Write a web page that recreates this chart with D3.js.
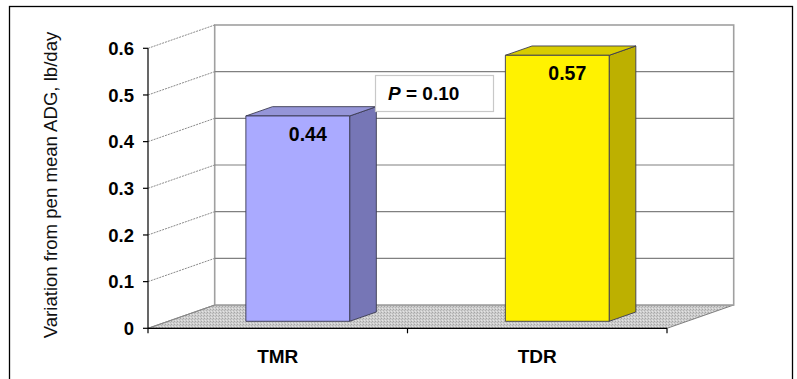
<!DOCTYPE html>
<html><head><meta charset="utf-8">
<script src="https://cdn.jsdelivr.net/npm/d3@7"></script>
<style>body{margin:0;background:#fff}svg{display:block}text{font-family:Arial,"Liberation Sans",sans-serif}</style>
</head><body>
<svg id="c" width="797" height="379"></svg>
<script>
const categories = ["TMR", "TDR"];
const values = [0.44, 0.57];
const valueLabels = ["0.44", "0.57"];
const yTicks = [0, 0.1, 0.2, 0.3, 0.4, 0.5, 0.6];
const yTickLabels = ["0", "0.1", "0.2", "0.3", "0.4", "0.5", "0.6"];
const frontColors = ["#aaaaff", "#fff200"];
const sideColors = ["#7676b6", "#bdb000"];
const topColors = ["#9595d8", "#d8cc00"];
const yTitle = "Variation from pen mean ADG, lb/day";
const pText = ["P", " = 0.10"];

const svg = d3.select("#c");
const x = d3.scaleBand().domain(categories).range([148, 667]).padding(0);
const y = d3.scaleLinear().domain([0, 0.6]).range([328.3, 48.3]);
const DX = 66.7, DY = -23.3;
const P = (px, py, d) => [px + d * DX, py + d * DY];
const d0 = 0.3, d1 = 0.7;

// outer border
svg.append("rect").attr("x", 9.5).attr("y", 6.5).attr("width", 783).attr("height", 380)
  .attr("fill", "none").attr("stroke", "#000").attr("stroke-width", 1.3);

// floor pattern
const defs = svg.append("defs");
const pat = defs.append("pattern").attr("id", "fl").attr("width", 3).attr("height", 3).attr("patternUnits", "userSpaceOnUse");
pat.append("rect").attr("width", 3).attr("height", 3).attr("fill", "#cdcdcd");
pat.append("rect").attr("x", 0).attr("y", 0).attr("width", 1).attr("height", 1).attr("fill", "#a6a6a6");
pat.append("rect").attr("x", 2).attr("y", 1).attr("width", 1).attr("height", 1).attr("fill", "#b4b4b4");
pat.append("rect").attr("x", 1).attr("y", 2).attr("width", 1).attr("height", 1).attr("fill", "#e4e4e4");

const x0 = x.range()[0], x1 = x.range()[1];
const y0 = y(0), yTop = y(0.6);
const line = d3.line();

// floor
svg.append("path").attr("d", line([P(x0, y0, 0), P(x1, y0, 0), P(x1, y0, 1), P(x0, y0, 1)]) + "Z")
  .attr("fill", "url(#fl)").attr("stroke", "#666").attr("stroke-width", 0.8);

// back wall
const bw0 = P(x0, yTop, 1), bw1 = P(x1, y0, 1);
svg.append("rect").attr("x", bw0[0]).attr("y", bw0[1]).attr("width", bw1[0] - bw0[0]).attr("height", bw1[1] - bw0[1])
  .attr("fill", "#fff").attr("stroke", "#a0a0a0").attr("stroke-width", 1.6);

// gridlines on back wall and left wall
yTicks.forEach(t => {
  const a = P(x0, y(t), 1), b = P(x1, y(t), 1);
  if (t > 0 && t < 0.6) {
    svg.append("line").attr("x1", a[0]).attr("y1", a[1]).attr("x2", b[0]).attr("y2", b[1])
      .attr("stroke", "#808080").attr("stroke-width", 1.2);
  }
  svg.append("line").attr("x1", x0).attr("y1", y(t)).attr("x2", a[0]).attr("y2", a[1])
    .attr("stroke", "#8a8a8a").attr("stroke-width", 1).attr("stroke-dasharray", t === 0 ? null : "2,1");
});

// bars
const bw = x.bandwidth() * 0.4;
categories.forEach((c, i) => {
  const v = values[i];
  const bx0 = x(c) + (x.bandwidth() - bw) / 2, bx1 = bx0 + bw;
  const g = svg.append("g").attr("stroke", "#3a3a50").attr("stroke-width", 0.9).attr("stroke-linejoin", "round");
  const f0 = P(bx0, y(v), d0), f1 = P(bx1, y(0), d0);
  g.append("path").attr("d", line([P(bx1, y(0), d0), P(bx1, y(v), d0), P(bx1, y(v), d1), P(bx1, y(0), d1)]) + "Z").attr("fill", sideColors[i]);
  g.append("path").attr("d", line([P(bx0, y(v), d0), P(bx1, y(v), d0), P(bx1, y(v), d1), P(bx0, y(v), d1)]) + "Z").attr("fill", topColors[i]);
  g.append("rect").attr("x", f0[0]).attr("y", f0[1]).attr("width", f1[0] - f0[0]).attr("height", f1[1] - f0[1]).attr("fill", frontColors[i]);
  svg.append("text").attr("x", (f0[0] + f1[0]) / 2 + 10).attr("y", f0[1] + 25)
    .attr("text-anchor", "middle").attr("font-size", 19.5).attr("font-weight", "bold").attr("fill", "#000").text(valueLabels[i]);
});

// axes
svg.append("line").attr("x1", x0).attr("y1", yTop).attr("x2", x0).attr("y2", y0).attr("stroke", "#000").attr("stroke-width", 1.2);
svg.append("line").attr("x1", x0).attr("y1", y0).attr("x2", x1).attr("y2", y0).attr("stroke", "#000").attr("stroke-width", 1.2);
yTicks.forEach((t, i) => {
  svg.append("line").attr("x1", x0 - 5).attr("x2", x0).attr("y1", y(t)).attr("y2", y(t)).attr("stroke", "#000").attr("stroke-width", 1.2);
  svg.append("text").attr("x", 134).attr("y", y(t)).attr("dy", "0.36em").attr("text-anchor", "end")
    .attr("font-size", 18.5).attr("font-weight", "bold").text(yTickLabels[i]);
});
const xt = categories.map(c => x(c)).concat([x1]);
xt.forEach(v => {
  svg.append("line").attr("x1", v).attr("x2", v).attr("y1", y0).attr("y2", y0 + 5).attr("stroke", "#000").attr("stroke-width", 1.2);
});
categories.forEach(c => {
  svg.append("text").attr("x", x(c) + x.bandwidth() / 2).attr("y", 362.5).attr("text-anchor", "middle")
    .attr("font-size", 19).attr("font-weight", "bold").text(c);
});

// y title
svg.append("text").attr("transform", "translate(56.5,185) rotate(-90)").attr("text-anchor", "middle")
  .attr("font-size", 18.6).attr("fill", "#111").text(yTitle);

// P box
svg.append("rect").attr("x", 375.5).attr("y", 75.5).attr("width", 118).attr("height", 36)
  .attr("fill", "#fff").attr("stroke", "#c8c8c8").attr("stroke-width", 1.2);
const pt = svg.append("text").attr("x", 388).attr("y", 100).attr("font-size", 19).attr("font-weight", "bold");
pt.append("tspan").attr("font-style", "italic").text(pText[0]);
pt.append("tspan").text(pText[1]);
</script>
</body></html>
